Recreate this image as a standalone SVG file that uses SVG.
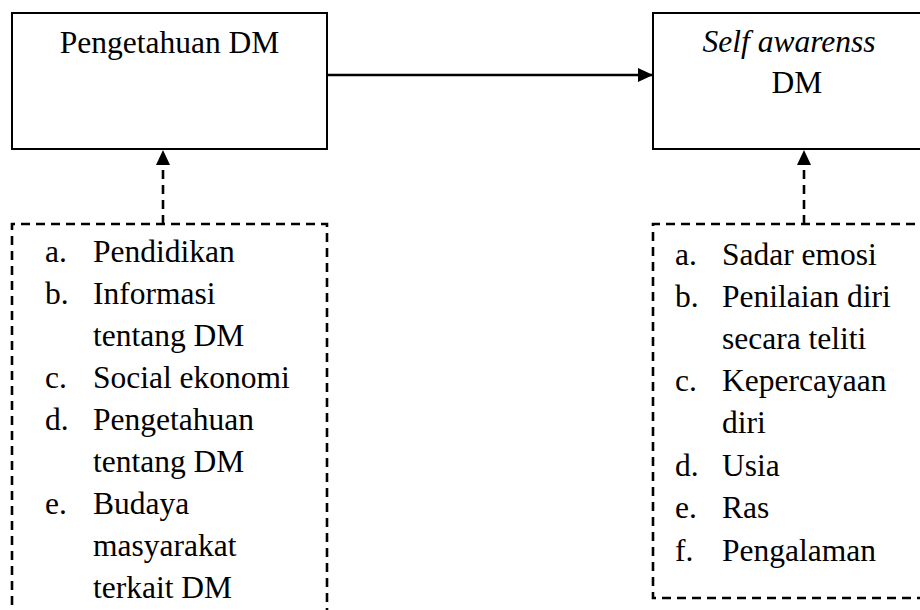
<svg xmlns="http://www.w3.org/2000/svg" width="920" height="610" viewBox="0 0 920 610">
<defs>
<marker id="ah" viewBox="0 0 15 14" refX="15" refY="7" markerWidth="15" markerHeight="14" markerUnits="userSpaceOnUse" orient="auto">
<path d="M0,0 L15,7 L0,14 Z" fill="#000"/>
</marker>
</defs>
<style>
text{font-family:"Liberation Serif","Times New Roman",serif;font-size:31.5px;fill:#000}
.box{fill:#fff;stroke:#000;stroke-width:2}
.dbox{fill:none;stroke:#000;stroke-width:2.6;stroke-dasharray:9 6}
.solid{stroke:#000;stroke-width:2.6;fill:none}
.dash{stroke:#000;stroke-width:2.6;fill:none;stroke-dasharray:9 6}
</style>
<g id="connectors">
<line class="solid" x1="327" y1="75" x2="653" y2="75" marker-end="url(#ah)"/>
<line class="dash" x1="163" y1="224" x2="163" y2="150" marker-end="url(#ah)"/>
<line class="dash" x1="804" y1="224" x2="804" y2="150" marker-end="url(#ah)"/>
</g>
<g id="node-pengetahuan">
<rect class="box" x="12" y="13" width="315" height="136"/>
<text x="169.5" y="53" text-anchor="middle">Pengetahuan DM</text>
</g>
<g id="node-selfawareness">
<rect class="box" x="653" y="13" width="290" height="136"/>
<text x="789" y="52" text-anchor="middle"><tspan font-style="italic">Self awarenss</tspan></text>
<text x="797" y="93" text-anchor="middle">DM</text>
</g>
<g id="node-faktor-pengetahuan">
<path class="dbox" d="M12,620 L12,224 L327,224 L327,620"/>
<text x="45" y="262">a.</text><text x="93" y="262">Pendidikan</text>
<text x="45" y="304">b.</text><text x="93" y="304">Informasi</text>
<text x="93" y="346">tentang DM</text>
<text x="45" y="388">c.</text><text x="93" y="388">Social ekonomi</text>
<text x="45" y="430">d.</text><text x="93" y="430">Pengetahuan</text>
<text x="93" y="472">tentang DM</text>
<text x="45" y="514">e.</text><text x="93" y="514">Budaya</text>
<text x="93" y="556">masyarakat</text>
<text x="93" y="598">terkait DM</text>
</g>
<g id="node-faktor-self">
<path class="dbox" d="M930,224 L653,224 L653,598 L930,598"/>
<text x="675" y="265">a.</text><text x="722" y="265">Sadar emosi</text>
<text x="675" y="307">b.</text><text x="722" y="307">Penilaian diri</text>
<text x="722" y="349">secara teliti</text>
<text x="675" y="391">c.</text><text x="722" y="391">Kepercayaan</text>
<text x="722" y="433">diri</text>
<text x="675" y="476">d.</text><text x="722" y="476">Usia</text>
<text x="675" y="518">e.</text><text x="722" y="518">Ras</text>
<text x="675" y="561">f.</text><text x="722" y="561">Pengalaman</text>
</g>
</svg>
